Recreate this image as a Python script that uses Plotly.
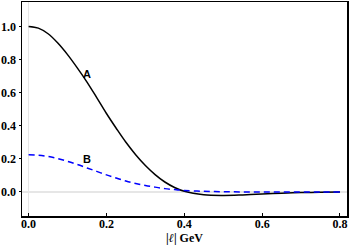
import plotly.graph_objects as go

q = [0.0, 0.025, 0.05, 0.075, 0.10, 0.125, 0.15, 0.175, 0.20, 0.225, 0.25, 0.275, 0.30, 0.325, 0.35, 0.375, 0.40,
     0.45, 0.50, 0.55, 0.60, 0.65, 0.70, 0.75, 0.80]
A = [1.0, 0.990, 0.956, 0.90, 0.83, 0.75, 0.664, 0.57, 0.474, 0.385, 0.30, 0.225, 0.16, 0.105, 0.06, 0.027, 0.004,
     -0.017, -0.021, -0.018, -0.013, -0.008, -0.004, -0.002, 0.0]
B = [0.225, 0.222, 0.214, 0.201, 0.185, 0.166, 0.145, 0.124, 0.103, 0.084, 0.066, 0.051, 0.039, 0.029, 0.020, 0.014, 0.009,
     0.004, 0.001, 0.0, -0.001, -0.001, 0.0, 0.0, 0.0]

xticks = [0.0, 0.2, 0.4, 0.6, 0.8]
yticks = [0.0, 0.2, 0.4, 0.6, 0.8, 1.0]

fig = go.Figure()
fig.add_trace(go.Scatter(x=q, y=A, mode="lines", line=dict(color="black", width=1.5, shape="spline"), showlegend=False))
fig.add_trace(go.Scatter(x=q, y=B, mode="lines", line=dict(color="#0000ff", width=1.5, dash="6px,4px", shape="spline"), showlegend=False))

fig.add_annotation(x=0.15, y=0.71, text="<b>A</b>", showarrow=False,
                   font=dict(family="Liberation Sans", size=11, color="black"))
fig.add_annotation(x=0.151, y=0.20, text="<b>B</b>", showarrow=False,
                   font=dict(family="Liberation Sans", size=11, color="black"))

common = dict(showline=True, linecolor="black", linewidth=1.5, mirror=True,
              tickcolor="black", tickwidth=1,
              showgrid=False, zeroline=True, zerolinecolor="#e6e6e6", zerolinewidth=1.5,
              tickfont=dict(family="Liberation Serif", size=12, color="black"))

fig.update_xaxes(range=[-0.017, 0.818], tickvals=xticks, ticktext=["<b>%.1f</b>" % v for v in xticks],
                 ticks="inside", ticklen=3, ticklabelstandoff=-4,
                 title=dict(text="<b>|<i>ℓ</i>| GeV</b>", font=dict(family="Liberation Serif", size=12, color="black"), standoff=1),
                 **common)
fig.update_yaxes(range=[-0.1455, 1.148], tickvals=yticks, ticktext=["<b>%.1f</b>" % v for v in yticks],
                 ticks="outside", ticklen=2,
                 **common)

fig.update_layout(width=349, height=250, margin=dict(l=22, r=1, t=0, b=34),
                  paper_bgcolor="white", plot_bgcolor="white")
fig.write_html("out.html", config={"displayModeBar": False, "staticPlot": True})

with open("out.html", "r", encoding="utf-8") as f:
    html = f.read()
html = html.replace("<head>", "<head><style>html,body{margin:0;padding:0;overflow:hidden;}</style>", 1)
with open("out.html", "w", encoding="utf-8") as f:
    f.write(html)
